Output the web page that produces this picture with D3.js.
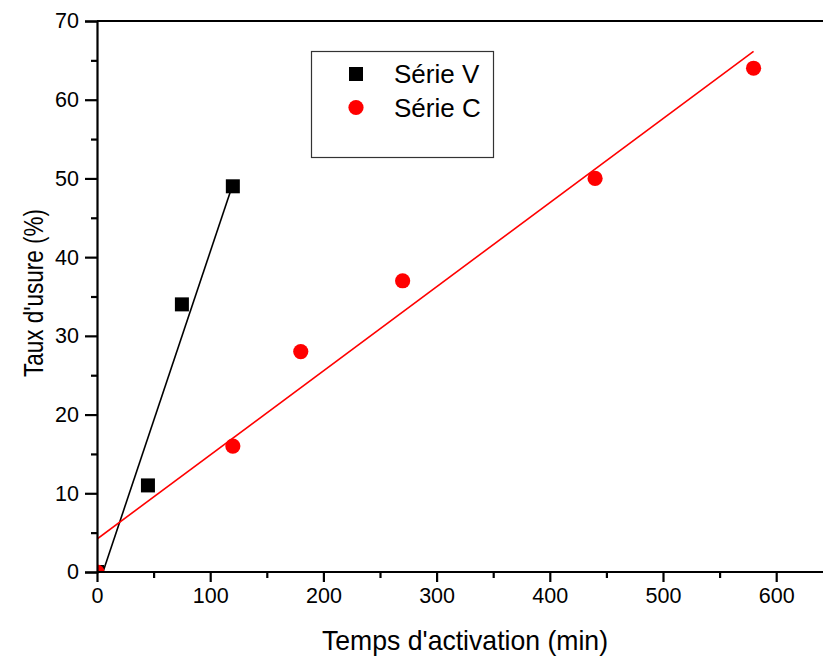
<!DOCTYPE html>
<html>
<head>
<meta charset="utf-8">
<script src="https://cdn.jsdelivr.net/npm/d3@7"></script>
<style>
  html, body { margin: 0; padding: 0; background: #fff; }
  svg { display: block; font-family: Arial, "Liberation Sans", sans-serif; }
</style>
</head>
<body>
<svg id="chart" width="823" height="657"></svg>
<script>
// Wear rate (%) versus activation time (min) for two series
const seriesV_time = [0, 45, 75, 120];
const seriesV_wear = [0, 11, 34, 49];
const seriesC_time = [0, 120, 180, 270, 440, 580];
const seriesC_wear = [0, 16, 28, 37, 50, 64];
const xTicks = [0, 100, 200, 300, 400, 500, 600];
const yTicks = [0, 10, 20, 30, 40, 50, 60, 70];
const legendLabels = ["Série V", "Série C"];

const svg = d3.select("#chart");
const W = 823, H = 657;
const m = { left: 97, top: 21 };

const x = d3.scaleLinear().domain([0, 650]).range([m.left, m.left + 6.5 * 113.2]);
const y = d3.scaleLinear().domain([0, 70]).range([572, m.top]);

// least-squares fit
function fit(xs, ys) {
  const n = xs.length;
  const mx = d3.mean(xs), my = d3.mean(ys);
  let sxy = 0, sxx = 0;
  for (let i = 0; i < n; i++) { sxy += (xs[i] - mx) * (ys[i] - my); sxx += (xs[i] - mx) ** 2; }
  const b = sxy / sxx;
  return { a: my - b * mx, b };
}

svg.append("defs").append("clipPath").attr("id", "plotClip")
  .append("rect")
  .attr("x", x(0)).attr("y", y(70))
  .attr("width", W - x(0)).attr("height", y(0) - y(70));

const plot = svg.append("g").attr("clip-path", "url(#plotClip)");

function drawFit(xs, ys, color) {
  const f = fit(xs, ys);
  const x0 = d3.min(xs), x1 = d3.max(xs);
  plot.append("line")
    .attr("x1", x(x0)).attr("y1", y(f.a + f.b * x0))
    .attr("x2", x(x1)).attr("y2", y(f.a + f.b * x1))
    .attr("stroke", color).attr("stroke-width", 1.6);
}

drawFit(seriesV_time, seriesV_wear, "#000");
drawFit(seriesC_time, seriesC_wear, "#ff0000");

const sq = 14;
plot.selectAll("rect.v").data(seriesV_time.map((t, i) => [t, seriesV_wear[i]]))
  .join("rect").attr("class", "v")
  .attr("x", d => x(d[0]) - sq / 2).attr("y", d => y(d[1]) - sq / 2)
  .attr("width", sq).attr("height", sq).attr("fill", "#000");

plot.selectAll("circle.c").data(seriesC_time.map((t, i) => [t, seriesC_wear[i]]))
  .join("circle").attr("class", "c")
  .attr("cx", d => x(d[0])).attr("cy", d => y(d[1]))
  .attr("r", 7.6).attr("fill", "#ff0000");

// axes
const tickFont = 21.5;
const xAxis = d3.axisBottom(x).tickValues(xTicks).tickSize(10).tickPadding(6).tickFormat(d3.format("d"));
const gx = svg.append("g").attr("transform", `translate(0,${y(0)})`).call(xAxis);
const xMinor = d3.axisBottom(x).tickValues([50, 150, 250, 350, 450, 550]).tickSize(6).tickFormat("");
const gxm = svg.append("g").attr("transform", `translate(0,${y(0)})`).call(xMinor);

const yAxis = d3.axisLeft(y).tickValues(yTicks).tickSize(12).tickPadding(6).tickFormat(d3.format("d"));
const gy = svg.append("g").attr("transform", `translate(${x(0)},0)`).call(yAxis);
const yMinor = d3.axisLeft(y).tickValues([5, 15, 25, 35, 45, 55, 65]).tickSize(6).tickFormat("");
const gym = svg.append("g").attr("transform", `translate(${x(0)},0)`).call(yMinor);

[gx, gxm, gy, gym].forEach(g => {
  g.select(".domain").attr("stroke", "#000").attr("stroke-width", 2.2);
  g.selectAll(".tick line").attr("stroke", "#000").attr("stroke-width", 2.2);
  g.selectAll(".tick text").attr("fill", "#000").attr("font-size", tickFont)
    .attr("font-family", "Arial, 'Liberation Sans', sans-serif");
});
gx.selectAll(".domain").attr("d", `M${x(0)},0H${W + 5}`);
gxm.select(".domain").remove();
gym.select(".domain").remove();

// top frame line
svg.append("line")
  .attr("x1", x(0)).attr("x2", W + 5)
  .attr("y1", y(70)).attr("y2", y(70))
  .attr("stroke", "#000").attr("stroke-width", 2.2);

// axis titles
svg.append("text")
  .attr("x", 322).attr("y", 650)
  .attr("font-size", 28.5).attr("fill", "#000")
  .attr("textLength", 286).attr("lengthAdjust", "spacingAndGlyphs")
  .text("Temps d'activation (min)");

svg.append("text")
  .attr("transform", "translate(43,377) rotate(-90)")
  .attr("font-size", 28).attr("fill", "#000")
  .attr("textLength", 168).attr("lengthAdjust", "spacingAndGlyphs")
  .text("Taux d'usure (%)");

// legend
const lg = svg.append("g");
lg.append("rect")
  .attr("x", 311.5).attr("y", 51.5).attr("width", 182).attr("height", 106)
  .attr("fill", "#fff").attr("stroke", "#333").attr("stroke-width", 1.2);
lg.append("rect")
  .attr("x", 356 - sq / 2).attr("y", 74 - sq / 2).attr("width", sq).attr("height", sq)
  .attr("fill", "#000");
lg.append("circle").attr("cx", 356).attr("cy", 107.5).attr("r", 7.6).attr("fill", "#ff0000");
lg.selectAll("text.lab").data(legendLabels).join("text").attr("class", "lab")
  .attr("x", 394).attr("y", (d, i) => 83 + i * 33.5)
  .attr("font-size", 26).attr("fill", "#000")
  .text(d => d);
</script>
</body>
</html>
